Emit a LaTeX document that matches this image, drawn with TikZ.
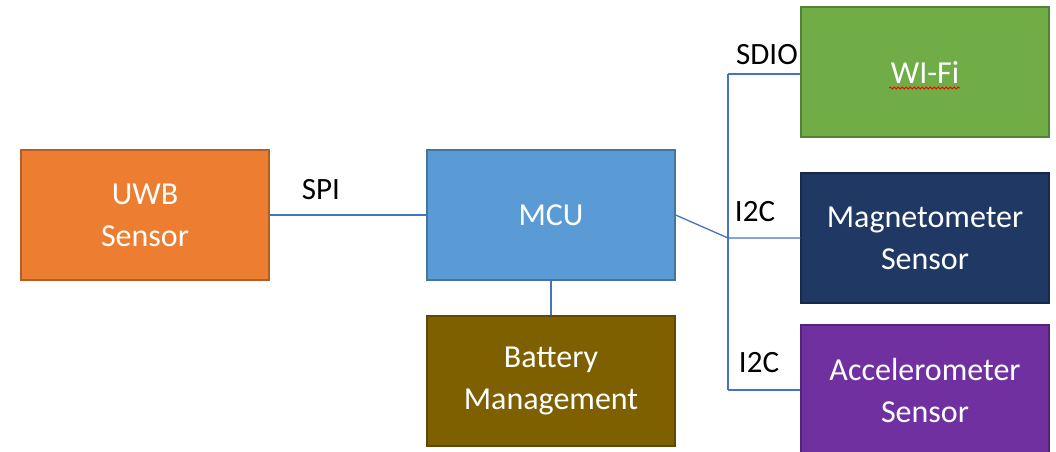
\documentclass[tikz,border=0pt]{standalone}
\usepackage{fontspec}
\setmainfont{Carlito}
\usetikzlibrary{decorations.pathmorphing}

\definecolor{uwbOrange}{HTML}{ED7D31}
\definecolor{mcuBlue}{HTML}{5B9BD5}
\definecolor{batBrown}{HTML}{7F6000}
\definecolor{wifiGreen}{HTML}{70AD47}
\definecolor{magNavy}{HTML}{203864}
\definecolor{accPurple}{HTML}{7030A0}
\definecolor{wireBlue}{HTML}{4472C4}

\begin{document}
\begin{tikzpicture}[x=1pt, y=-1pt,
    block/.style={rectangle, draw=#1!75!black, fill=#1, line width=1.2pt,
        minimum width=248pt, minimum height=130pt, text=white,
        align=center, font=\fontsize{32}{42}\selectfont},
    wire/.style={draw=wireBlue, line width=1.3pt},
    bus/.style={font=\fontsize{31}{36}\selectfont}]
        \useasboundingbox (0,0) rectangle (1056,451);

        % Draw nodes
        \node[block=uwbOrange] (uwb) at (145,215) {UWB\\Sensor};
        \node[block=mcuBlue] (mcu) at (551,215) {MCU};
        \node[block=batBrown] (bat) at (551,381) {Battery\\Management};
        \node[block=wifiGreen] (wifi) at (925,72) {WI-Fi};
        \node[block=magNavy] (mag) at (925,238) {Magnetometer\\Sensor};
        \node[block=accPurple] (acc) at (925,390) {Accelerometer\\Sensor};

        % Bus coordinates
        \coordinate (top) at (728,74);
        \coordinate (mid) at (728,238);
        \coordinate (bot) at (728,390);

        % Draw connections
        \draw[wire] (uwb) -- (mcu);
        \draw[wire] (mcu) -- (bat);
        \draw[wire] (mcu.east) -- (mid) -- (mag);
        \draw[wire] (top) -- (bot);
        \draw[wire] (top) -- (wifi.west |- top);
        \draw[wire] (bot) -- (acc.west |- bot);

        % Labels
        \node[bus] (spi) at (321,190) {SPI};
        \node[bus] (sdio) at (767,55) {SDIO};
        \node[bus] (i2cmag) at (755,212) {I2C};
        \node[bus] (i2cacc) at (759,363) {I2C};

        % Spell check mark
        \draw[red, line width=0.8pt, decorate,
            decoration={snake, amplitude=1pt, segment length=4pt}]
            (889,88) -- (960,88);
    \end{tikzpicture}
\end{document}
